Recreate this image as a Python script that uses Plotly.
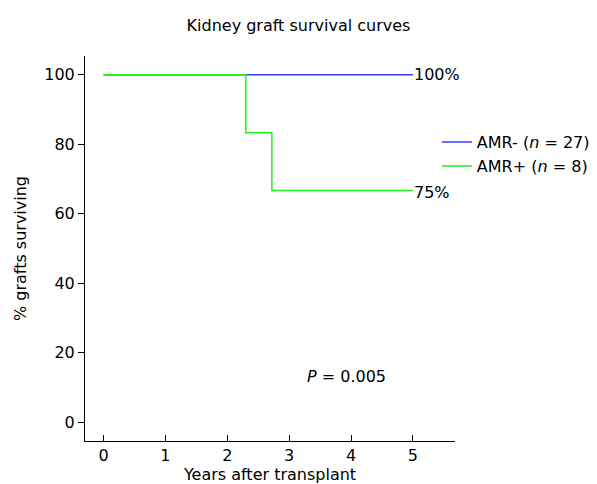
import plotly.graph_objects as go

years_neg = [0, 5]
surv_neg = [100, 100]
years_pos = [0, 2.3, 2.72, 5]
surv_pos = [100, 83.3, 66.7, 66.7]
x_ticks = [0, 1, 2, 3, 4, 5]
y_ticks = [0, 20, 40, 60, 80, 100]

FONT = "DejaVu Sans"

fig = go.Figure()
fig.add_trace(go.Scatter(x=years_neg, y=surv_neg, mode="lines", line_shape="hv",
                         line=dict(color="#3a3aff", width=1.5),
                         name="AMR- (<i>n</i> = 27)"))
fig.add_trace(go.Scatter(x=years_pos, y=surv_pos, mode="lines", line_shape="hv",
                         line=dict(color="#22ee22", width=1.5),
                         name="AMR+ (<i>n</i> = 8)"))

fig.add_annotation(x=5, y=100, text="100%", showarrow=False, xanchor="left", yanchor="middle",
                   font=dict(size=16, color="black", family=FONT), xshift=-1)
fig.add_annotation(x=5, y=66.7, text="75%", showarrow=False, xanchor="left", yanchor="middle",
                   font=dict(size=16, color="black", family=FONT), xshift=-1, yshift=-2)
fig.add_annotation(x=3.26, y=13, text="<i>P</i> = 0.005", showarrow=False, xanchor="left",
                   yanchor="middle", font=dict(size=16, color="black", family=FONT))

fig.update_layout(
    width=597, height=484,
    margin=dict(l=85, r=142, t=56, b=43, autoexpand=False),
    paper_bgcolor="white", plot_bgcolor="white",
    font=dict(family=FONT, color="black", size=16),
    title=dict(text="Kidney graft survival curves", x=0.5, xanchor="center", y=1 - 25 / 484,
               yanchor="middle", font=dict(size=16, family=FONT)),
    showlegend=True,
    legend=dict(x=0.951, y=0.745, xanchor="left", yanchor="middle", itemwidth=30,
                font=dict(size=16, family=FONT), tracegroupgap=0, bgcolor="rgba(0,0,0,0)"),
    xaxis=dict(range=[-0.3, 5.68], tickvals=x_ticks, ticks="inside", ticklen=6,
               tickcolor="black", showline=True, linecolor="black", linewidth=1,
               showgrid=False, zeroline=False,
               title=dict(text="Years after transplant", standoff=0, font=dict(size=16)),
               tickfont=dict(size=16)),
    yaxis=dict(range=[-5.47, 105.4], tickvals=y_ticks, ticks="outside", ticklen=6,
               tickcolor="black", showline=True, linecolor="black", linewidth=1,
               showgrid=False, zeroline=False,
               title=dict(text="% grafts surviving", standoff=13, font=dict(size=16)),
               tickfont=dict(size=16)),
)

fig.write_html("out.html", config={"displayModeBar": False},
               post_script="document.body.style.margin='0';document.body.style.overflow='hidden';")
